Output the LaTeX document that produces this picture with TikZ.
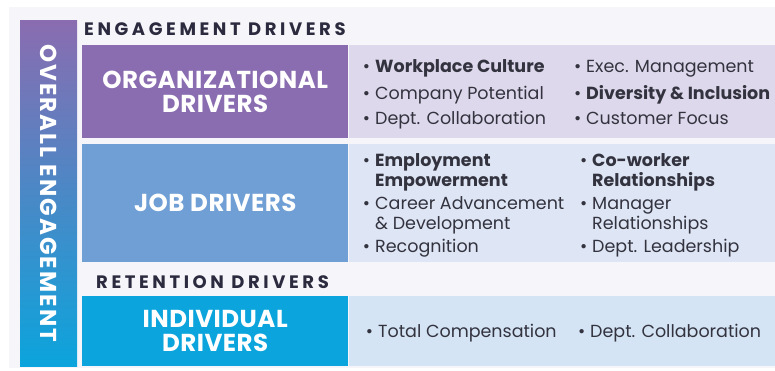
\documentclass[tikz,border=0pt]{standalone}
\usepackage{fontspec}
\setmainfont{Poppins}
\newfontfamily\spacedfont[LetterSpace=20]{Poppins}
\newfontfamily\vertfont[LetterSpace=9]{Poppins}
\newfontfamily\drvfont[LetterSpace=2]{Poppins}
\usetikzlibrary{positioning}
\definecolor{panel}{HTML}{F6F6FA}
\definecolor{ink}{HTML}{2B2A3F}
\definecolor{listink}{HTML}{33333F}
\definecolor{orgpurple}{HTML}{8A6CB0}
\definecolor{orglist}{HTML}{DED8EC}
\definecolor{jobblue}{HTML}{6F9FD5}
\definecolor{joblist}{HTML}{DEE5F4}
\definecolor{indblue}{HTML}{0BA4DC}
\definecolor{indlist}{HTML}{D4E4F4}
\tikzset{%
	drv/.style={inner sep=0pt, anchor=north west, minimum width=266pt, text=white,%
		align=center, font=\drvfont\bfseries\fontsize{24.5}{24}\selectfont},
	lst/.style={inner sep=0pt, anchor=north west, minimum width=427pt},
	head/.style={anchor=base west, inner sep=0pt, text=ink,%
		font=\spacedfont\bfseries\fontsize{18}{18}\selectfont},
	item/.style={anchor=base west, inner sep=0pt, align=left, text=listink,%
		font=\fontsize{17.5}{19.5}\selectfont}
}
\newcommand{\bt}{\llap{\textbullet\hspace{5pt}}}

\begin{document}
\begin{tikzpicture}[x=1pt, y=-1pt]
	\useasboundingbox (0,0) rectangle (775,370);
	\fill[white] (0,0) rectangle (775,370);
	\fill[panel] (9,7) rectangle (775,368);

	\node[inner sep=0pt, anchor=north west, minimum width=57pt, minimum height=346pt,%
		top color=orgpurple, middle color=jobblue!85!orgpurple, bottom color=indblue] (overall) at (20,20) {};
	\node[rotate=-90, text=white, font=\vertfont\bfseries\fontsize{23}{23}\selectfont] (overall-t) at (overall.center) {OVERALL ENGAGEMENT};

	\node[head] (eng) at (84,35) {ENGAGEMENT DRIVERS};
	\node[drv, fill=orgpurple, minimum height=93pt] (org) at (82,45) {ORGANIZATIONAL\\DRIVERS};
	\node[lst, fill=orglist, minimum height=93pt] (org-l) [right=0pt of org] {};
	\node[drv, fill=jobblue, minimum height=118pt] (job) at (82,144) {JOB DRIVERS};
	\node[lst, fill=joblist, minimum height=118pt] (job-l) [right=0pt of job] {};
	\node[head] (ret) at (96,288) {RETENTION DRIVERS};
	\node[drv, fill=indblue, minimum height=70pt] (ind) at (82,296) {INDIVIDUAL\\DRIVERS};
	\node[lst, fill=indlist, minimum height=70pt] (ind-l) [right=0pt of ind] {};

	% organizational
	\node[item] (o1) at (375,72.5) {\bt\textbf{Workplace Culture}};
	\node[item] (o2) at (375,99) {\bt Company Potential};
	\node[item] (o3) at (375,124.5) {\bt Dept. Collaboration};
	\node[item] (o4) at (586,72.5) {\bt Exec. Management};
	\node[item] (o5) at (586,99) {\bt\textbf{Diversity \& Inclusion}};
	\node[item] (o6) at (586,124.5) {\bt Customer Focus};

	% job (base is the last line)
	\node[item] (j1) at (375,186) {\bt\textbf{Employment}\\\textbf{Empowerment}};
	\node[item] (j2) at (375,229) {\bt Career Advancement\\\& Development};
	\node[item] (j3) at (375,252) {\bt Recognition};
	\node[item] (j4) at (592,186) {\bt\textbf{Co-worker}\\\textbf{Relationships}};
	\node[item] (j5) at (592,229) {\bt Manager\\Relationships};
	\node[item] (j6) at (592,252) {\bt Dept. Leadership};

	% individual
	\node[item] (i1) at (378,337) {\bt Total Compensation};
	\node[item] (i2) at (590,337) {\bt Dept. Collaboration};
\end{tikzpicture}
\end{document}
